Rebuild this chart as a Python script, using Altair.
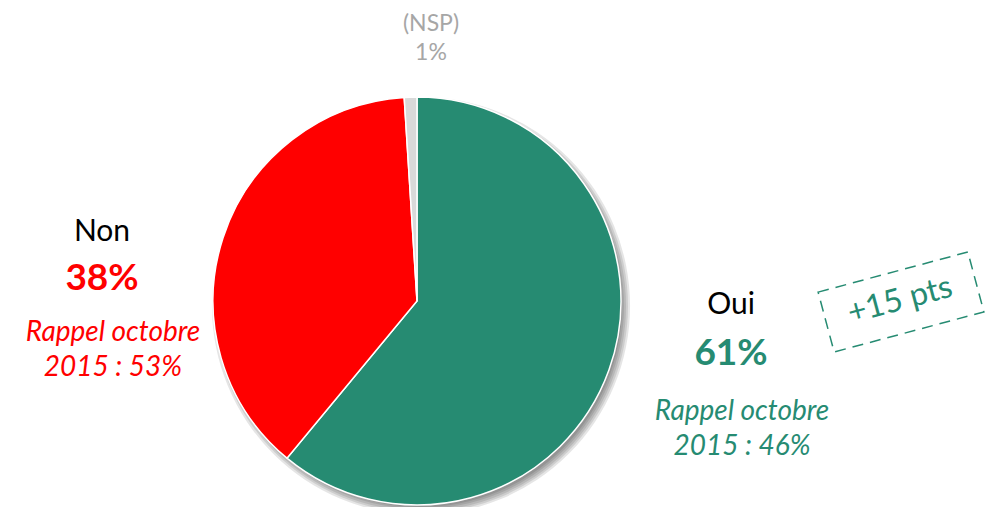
import altair as alt
import pandas as pd

categories = ["Oui", "Non", "(NSP)"]
values = [61, 38, 1]
colors = ["#268B72", "#FF0000", "#D9D9D9"]
rappel = ["Rappel octobre 2015 : 46%", "Rappel octobre 2015 : 53%"]
delta_label = "+15 pts"

FONT = "Lato"
W, H = 984, 499
CX, CY, R = 409, 293, 204

pie_df = pd.DataFrame({"cat": categories, "val": values, "ord": [0, 1, 2]})
one = pd.DataFrame({"v": [1]})

shadows = [
    alt.Chart(one).mark_arc(color="#000000", opacity=0.1, outerRadius=r).encode(
        theta=alt.value(0), theta2=alt.value(6.2832),
        x=alt.value(CX + 4), y=alt.value(CY + 5)
    )
    for r in [209, 207, 205, 203, 201]
]

pie = alt.Chart(pie_df).mark_arc(outerRadius=R, stroke="white", strokeWidth=1.5).encode(
    theta=alt.Theta("val:Q", stack=True),
    order=alt.Order("ord:Q"),
    color=alt.Color("cat:N", scale=alt.Scale(domain=categories, range=colors), legend=None),
    x=alt.value(CX),
    y=alt.value(CY),
)


def txt(text, x, y, size, color, bold=False, italic=False, angle=0):
    kw = dict(
        text=text, fontSize=size, color=color, font=FONT, align="center", baseline="middle",
        fontWeight="bold" if bold else "normal", fontStyle="italic" if italic else "normal",
    )
    if angle:
        kw["angle"] = angle
    return alt.Chart(one).mark_text(**kw).encode(x=alt.value(x), y=alt.value(y))


r_oui = rappel[0].split(" 2015")
r_non = rappel[1].split(" 2015")

texts = [
    txt(categories[2], 423, 16, 23, "#A6A6A6"),
    txt(f"{values[2]}%", 423, 45, 23, "#A6A6A6"),
    txt(categories[1], 94, 224, 30, "#000000"),
    txt(f"{values[1]}%", 94, 271, 37, "#FF0000", bold=True),
    txt(r_non[0], 105, 325, 28, "#FF0000", italic=True),
    txt("2015" + r_non[1], 105, 360, 28, "#FF0000", italic=True),
    txt(categories[0], 723, 297, 30, "#000000"),
    txt(f"{values[0]}%", 723, 346, 37, "#268B72", bold=True),
    txt(r_oui[0], 734, 404, 28, "#268B72", italic=True),
    txt("2015" + r_oui[1], 734, 439, 28, "#268B72", italic=True),
    txt(delta_label, 892, 292, 32, "#268B72", angle=345),
]

box = alt.Chart(one).mark_point(
    shape="M-1,-0.4L1,-0.4L1,0.4L-1,0.4Z",
    size=155 * 155,
    angle=345,
    filled=False,
    stroke="#268B72",
    strokeWidth=1.5,
    strokeDash=[11, 7],
    opacity=1,
).encode(x=alt.value(893), y=alt.value(294))

chart = alt.layer(*shadows, pie, box, *texts).properties(
    width=W, height=H, autosize="none", padding=0
).configure_view(stroke=None)

chart.save("out.html", embed_options={"renderer": "svg", "actions": False})
